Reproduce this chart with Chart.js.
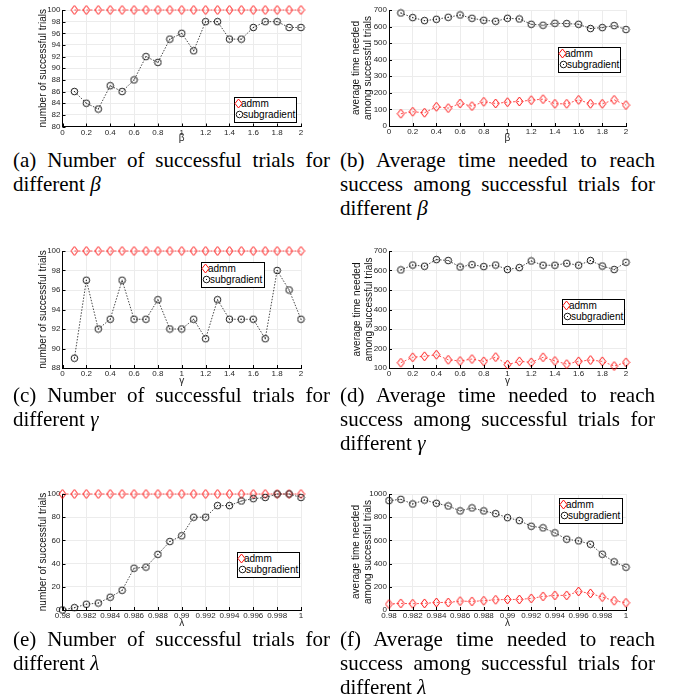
<!DOCTYPE html>
<html>
<head>
<meta charset="utf-8">
<script src="https://cdn.jsdelivr.net/npm/chart.js@4.4.1/dist/chart.umd.min.js"></script>
<style>
  body { margin: 0; background: #fff; }
  #page { position: relative; width: 679px; height: 698px; overflow: hidden; background: #fff; }
  #page canvas { position: absolute; }
  .cap { position: absolute; font-family: "Liberation Serif", "Times New Roman", serif; font-size: 21px; line-height: 24px; text-align: justify; color: #000; }
  .leg { position: absolute; border: 1px solid #000; background: #fff; box-sizing: border-box; font: 10px "Liberation Sans", Arial, sans-serif; color: #000; }
  .leg img, .leg span { position: absolute; }
  .leg span { line-height: 12px; white-space: nowrap; }
</style>
</head>
<body>
<div id="page"></div>
<script>
/* Parameter sweeps: admm vs subgradient */

var X_PARAM = [0.1, 0.2, 0.3, 0.4, 0.5, 0.6, 0.7, 0.8, 0.9, 1.0, 1.1, 1.2, 1.3, 1.4, 1.5, 1.6, 1.7, 1.8, 1.9, 2.0];
var X_LAMBDA = [0.98, 0.981, 0.982, 0.983, 0.984, 0.985, 0.986, 0.987, 0.988, 0.989, 0.99,
  0.991, 0.992, 0.993, 0.994, 0.995, 0.996, 0.997, 0.998, 0.999, 1.0];

var X_TICKS_PARAM = [0, 0.2, 0.4, 0.6, 0.8, 1, 1.2, 1.4, 1.6, 1.8, 2];
var X_LABELS_PARAM = ['0', '0.2', '0.4', '0.6', '0.8', '1', '1.2', '1.4', '1.6', '1.8', '2'];
var X_TICKS_LAMBDA = [0.98, 0.982, 0.984, 0.986, 0.988, 0.99, 0.992, 0.994, 0.996, 0.998, 1];
var X_LABELS_LAMBDA = ['0.98', '0.982', '0.984', '0.986', '0.988', '0.99', '0.992', '0.994', '0.996', '0.998', '1'];

var Y_TICKS_A = [80, 82, 84, 86, 88, 90, 92, 94, 96, 98, 100];
var Y_TICKS_B = [0, 100, 200, 300, 400, 500, 600, 700];
var Y_TICKS_C = [88, 90, 92, 94, 96, 98, 100];
var Y_TICKS_D = [100, 200, 300, 400, 500, 600, 700];
var Y_TICKS_E = [0, 20, 40, 60, 80, 100];
var Y_TICKS_F = [0, 200, 400, 600, 800, 1000];

// (a) successful trials vs beta
var ADMM_A = [100, 100, 100, 100, 100, 100, 100, 100, 100, 100, 100, 100, 100, 100, 100, 100, 100, 100, 100, 100];
var SUB_A = [86, 84, 83, 87, 86, 88, 92, 91, 95, 96, 93, 98, 98, 95, 95, 97, 98, 98, 97, 97];
// (b) average time vs beta
var ADMM_B = [74, 86, 80, 116, 108, 136, 120, 146, 136, 144, 148, 156, 162, 134, 134, 158, 134, 134, 158, 126];
var SUB_B = [682, 654, 636, 644, 656, 670, 650, 638, 632, 650, 646, 614, 608, 620, 618, 614, 588, 594, 606, 582];
// (c) successful trials vs gamma
var ADMM_C = [100, 100, 100, 100, 100, 100, 100, 100, 100, 100, 100, 100, 100, 100, 100, 100, 100, 100, 100, 100];
var SUB_C = [89, 97, 92, 93, 97, 93, 93, 95, 92, 92, 93, 91, 95, 93, 93, 93, 91, 98, 96, 93];
// (d) average time vs gamma
var ADMM_D = [127, 155, 160, 168, 142, 136, 146, 134, 156, 117, 134, 129, 155, 136, 120, 134, 141, 134, 110, 129];
var SUB_D = [603, 628, 622, 656, 651, 618, 630, 620, 628, 605, 615, 649, 627, 627, 637, 627, 651, 623, 605, 642];
// (e) successful trials vs lambda
var ADMM_E = [100, 100, 100, 100, 100, 100, 100, 100, 100, 100, 100, 100, 100, 100, 100, 100, 100, 100, 100, 100, 100];
var SUB_E = [0, 2, 5, 6, 11, 17, 36, 37, 48, 59, 64, 80, 80, 90, 90, 94, 96, 97, 100, 100, 97];
// (f) average time vs lambda
var ADMM_F = [51, 57, 54, 57, 65, 65, 77, 74, 80, 88, 91, 91, 100, 117, 126, 126, 160, 143, 111, 80, 62];
var SUB_F = [943, 954, 914, 948, 920, 897, 854, 880, 854, 831, 796, 771, 722, 708, 665, 610, 596, 567, 481, 415, 369];

var Y_TITLE_COUNT = 'number of successful trials';
var Y_TITLE_TIME = ['average time needed', 'among successful trials'];

var TICK_FONT = { family: '"Liberation Sans", Arial, sans-serif', size: 8 };
var TITLE_FONT = { family: '"Liberation Sans", Arial, sans-serif', size: 10, lineHeight: 1.2 };

var page = document.getElementById('page');

function makeDiamond() {
  var c = document.createElement('canvas');
  c.width = 9;
  c.height = 11;
  var g = c.getContext('2d');
  g.strokeStyle = '#ff1010';
  g.lineWidth = 1;
  g.beginPath();
  g.moveTo(4.5, 1);
  g.lineTo(8, 5.5);
  g.lineTo(4.5, 10);
  g.lineTo(1, 5.5);
  g.closePath();
  g.stroke();
  return c;
}

function makeCircle() {
  var c = document.createElement('canvas');
  c.width = 9;
  c.height = 9;
  var g = c.getContext('2d');
  g.strokeStyle = '#1a1a1a';
  g.lineWidth = 1;
  g.beginPath();
  g.arc(4.5, 4.5, 3.3, 0, Math.PI * 2);
  g.stroke();
  g.fillStyle = '#1a1a1a';
  g.fillRect(4, 4, 1, 1);
  return c;
}

var DIAMOND = makeDiamond();
var CIRCLE = makeCircle();

// MATLAB style ticks pointing into the plot
var inwardTicks = {
  id: 'inwardTicks',
  afterDraw: function (chart) {
    var ctx = chart.ctx;
    var a = chart.chartArea;
    var xs = chart.scales.x;
    var ys = chart.scales.y;
    var i;
    ctx.save();
    ctx.strokeStyle = '#000';
    ctx.lineWidth = 1;
    ctx.beginPath();
    for (i = 0; i < xs.ticks.length; i += 1) {
      var px = Math.round(xs.getPixelForTick(i)) + 0.5;
      ctx.moveTo(px, a.bottom);
      ctx.lineTo(px, a.bottom - 3);
    }
    for (i = 0; i < ys.ticks.length; i += 1) {
      var py = Math.round(ys.getPixelForTick(i)) + 0.5;
      ctx.moveTo(a.left, py);
      ctx.lineTo(a.left + 3, py);
    }
    ctx.stroke();
    ctx.restore();
  }
};

function toPoints(xs, ys) {
  return xs.map(function (x, i) { return { x: x, y: ys[i] }; });
}

function addLegend(left, top, width, height) {
  var box = document.createElement('div');
  box.className = 'leg';
  box.style.left = left + 'px';
  box.style.top = top + 'px';
  box.style.width = width + 'px';
  box.style.height = height + 'px';

  var d = document.createElement('img');
  d.src = DIAMOND.toDataURL();
  d.style.left = '-1px';
  d.style.top = '0px';
  box.appendChild(d);
  var t1 = document.createElement('span');
  t1.textContent = 'admm';
  t1.style.left = '6px';
  t1.style.top = '0px';
  box.appendChild(t1);

  var c = document.createElement('img');
  c.src = CIRCLE.toDataURL();
  c.style.left = '0px';
  c.style.top = '12px';
  box.appendChild(c);
  var t2 = document.createElement('span');
  t2.textContent = 'subgradient';
  t2.style.left = '8px';
  t2.style.top = '11px';
  box.appendChild(t2);

  page.appendChild(box);
}

function addCaption(left, top, width, html) {
  var el = document.createElement('div');
  el.className = 'cap';
  el.style.left = left + 'px';
  el.style.top = top + 'px';
  el.style.width = width + 'px';
  el.innerHTML = html;
  page.appendChild(el);
}

// box: plot area in page pixels; titleX: centre of first y-title line; xTitleY: centre of x-title
function addPlot(p) {
  var canvasLeft = p.titleX - 6;
  var canvasTop = p.box.t - 8;
  var canvasBottom = p.xTitleY + 6;
  var canvasRight = p.box.r + 12;
  var yWidth = p.box.l - canvasLeft;
  var xHeight = canvasBottom - p.box.b;

  var canvas = document.createElement('canvas');
  canvas.width = canvasRight - canvasLeft;
  canvas.height = canvasBottom - canvasTop;
  canvas.style.left = canvasLeft + 'px';
  canvas.style.top = canvasTop + 'px';
  page.appendChild(canvas);

  new Chart(canvas.getContext('2d'), {
    type: 'scatter',
    data: {
      datasets: [
        {
          label: 'admm',
          data: toPoints(p.xs, p.admm),
          showLine: true,
          borderColor: 'rgba(255, 40, 40, 0.8)',
          borderWidth: 1,
          borderDash: [2, 2],
          pointStyle: DIAMOND,
          pointRadius: 4,
          clip: false,
          order: 2
        },
        {
          label: 'subgradient',
          data: toPoints(p.xs, p.sub),
          showLine: true,
          borderColor: 'rgba(40, 40, 40, 0.85)',
          borderWidth: 1,
          borderDash: [1.5, 1.5],
          pointStyle: CIRCLE,
          pointRadius: 4,
          clip: false,
          order: 1
        }
      ]
    },
    options: {
      responsive: false,
      animation: false,
      devicePixelRatio: 1,
      layout: { padding: { top: 8, right: 12, left: 0, bottom: 0 } },
      plugins: { legend: { display: false }, tooltip: { enabled: false } },
      scales: {
        x: {
          type: 'linear',
          min: p.xTicks[0],
          max: p.xTicks[p.xTicks.length - 1],
          afterBuildTicks: function (s) {
            s.ticks = p.xTicks.map(function (v) { return { value: v }; });
          },
          afterFit: function (s) { s.height = xHeight; },
          ticks: {
            autoSkip: false,
            maxRotation: 0,
            padding: 1,
            font: TICK_FONT,
            color: '#262626',
            callback: function (v, i) { return p.xLabels[i]; }
          },
          grid: { color: '#ececec', drawTicks: false },
          border: { color: '#000', width: 1 },
          title: { display: true, text: p.xTitle, font: TITLE_FONT, color: '#262626', padding: 0 }
        },
        y: {
          min: p.yTicks[0],
          max: p.yTicks[p.yTicks.length - 1],
          afterBuildTicks: function (s) {
            s.ticks = p.yTicks.map(function (v) { return { value: v }; });
          },
          afterFit: function (s) { s.width = yWidth; },
          ticks: {
            autoSkip: false,
            padding: 2,
            font: TICK_FONT,
            color: '#262626',
            callback: function (v) { return String(v); }
          },
          grid: { color: '#ececec', drawTicks: false },
          border: { color: '#000', width: 1 },
          title: { display: true, text: p.yTitle, font: TITLE_FONT, color: '#111', padding: 0 }
        }
      }
    },
    plugins: [inwardTicks]
  });
}

addPlot({ box: { l: 62.5, t: 10, r: 301, b: 126.5 }, titleX: 43, xTitleY: 138,
  xs: X_PARAM, admm: ADMM_A, sub: SUB_A, xTicks: X_TICKS_PARAM, xLabels: X_LABELS_PARAM,
  yTicks: Y_TICKS_A, xTitle: 'β', yTitle: Y_TITLE_COUNT });
addPlot({ box: { l: 389, t: 10, r: 626, b: 126 }, titleX: 356, xTitleY: 138,
  xs: X_PARAM, admm: ADMM_B, sub: SUB_B, xTicks: X_TICKS_PARAM, xLabels: X_LABELS_PARAM,
  yTicks: Y_TICKS_B, xTitle: 'β', yTitle: Y_TITLE_TIME });
addPlot({ box: { l: 62.5, t: 251, r: 301, b: 368 }, titleX: 43, xTitleY: 381,
  xs: X_PARAM, admm: ADMM_C, sub: SUB_C, xTicks: X_TICKS_PARAM, xLabels: X_LABELS_PARAM,
  yTicks: Y_TICKS_C, xTitle: 'γ', yTitle: Y_TITLE_COUNT });
addPlot({ box: { l: 389, t: 251, r: 626, b: 368 }, titleX: 357, xTitleY: 381,
  xs: X_PARAM, admm: ADMM_D, sub: SUB_D, xTicks: X_TICKS_PARAM, xLabels: X_LABELS_PARAM,
  yTicks: Y_TICKS_D, xTitle: 'γ', yTitle: Y_TITLE_TIME });
addPlot({ box: { l: 62.5, t: 494, r: 301, b: 610 }, titleX: 43, xTitleY: 623,
  xs: X_LAMBDA, admm: ADMM_E, sub: SUB_E, xTicks: X_TICKS_LAMBDA, xLabels: X_LABELS_LAMBDA,
  yTicks: Y_TICKS_E, xTitle: 'λ', yTitle: Y_TITLE_COUNT });
addPlot({ box: { l: 389, t: 494, r: 626, b: 610 }, titleX: 356, xTitleY: 623,
  xs: X_LAMBDA, admm: ADMM_F, sub: SUB_F, xTicks: X_TICKS_LAMBDA, xLabels: X_LABELS_LAMBDA,
  yTicks: Y_TICKS_F, xTitle: 'λ', yTitle: Y_TITLE_TIME });

addLegend(234, 97, 63, 26);
addLegend(558, 47, 63, 26);
addLegend(201, 262, 64, 26);
addLegend(562, 299, 63, 26);
addLegend(237, 552, 63, 26);
addLegend(559, 498, 64, 26);

addCaption(13, 148, 317, '(a) Number of successful trials for different <i>β</i>');
addCaption(340, 148, 315, '(b) Average time needed to reach success among successful trials for different <i>β</i>');
addCaption(13, 383, 317, '(c) Number of successful trials for different <i>γ</i>');
addCaption(340, 383, 315, '(d) Average time needed to reach success among successful trials for different <i>γ</i>');
addCaption(13, 627, 317, '(e) Number of successful trials for different <i>λ</i>');
addCaption(340, 627, 315, '(f) Average time needed to reach success among successful trials for different <i>λ</i>');
</script>
</body>
</html>
